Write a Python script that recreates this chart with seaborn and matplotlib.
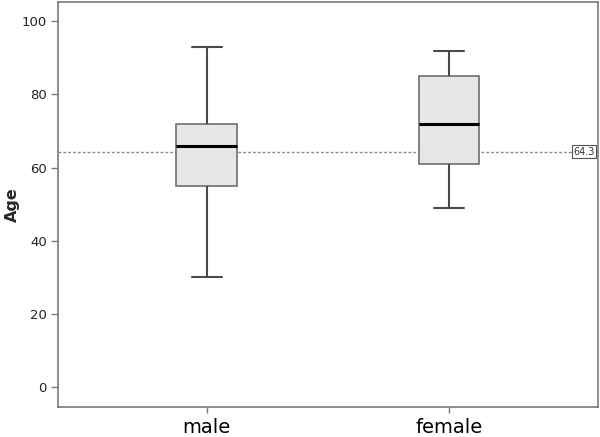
import numpy as np
import pandas as pd
import matplotlib
matplotlib.use("Agg")
import matplotlib.pyplot as plt
import seaborn as sns

# data: five-number summaries
genders = ['male', 'female']
male_age = [30, 55, 66, 72, 93]
female_age = [49, 61, 72, 85, 92]
ref_value = 64.3
y_ticks = [0, 20, 40, 60, 80, 100]

sns.set_theme(style="white")
plt.rcParams['font.family'] = ['DejaVu Sans']

df = pd.DataFrame({
    'gender': ['male'] * len(male_age) + ['female'] * len(female_age),
    'Age': male_age + female_age,
})

fig = plt.figure(figsize=(6, 4.37), dpi=100)
ax = fig.add_axes([58 / 600, 30 / 437, 540 / 600, 405 / 437])

edge = '#6e6e6e'
sns.boxplot(data=df, x='gender', y='Age', order=genders, ax=ax,
            width=0.25, whis=np.inf, color='#e6e6e6', saturation=1,
            linewidth=1.2,
            boxprops=dict(facecolor='#e6e6e6', edgecolor=edge),
            whiskerprops=dict(color='#4a4a4a', linewidth=1.5),
            capprops=dict(color='#4a4a4a', linewidth=1.5),
            medianprops=dict(color='black', linewidth=2.2),
            capwidths=0.125)

# reference line
ax.axhline(ref_value, color='#8a8a8a', linestyle=(0, (2, 1.5)), linewidth=1, zorder=0)
ax.text(1.6, ref_value, f'{ref_value}', ha='right', va='center', fontsize=7,
        color='#333333',
        bbox=dict(facecolor='white', edgecolor='#555555', boxstyle='square,pad=0.15', linewidth=0.8))

ax.set_xlim(-0.614, 1.615)
ax.set_ylim(-5.5, 105.3)
ax.set_yticks(y_ticks)
ax.set_xlabel('')
ax.set_ylabel('Age', fontsize=11.5, fontweight='bold')
ax.yaxis.set_label_coords(-0.07, 0.5)

for s in ax.spines.values():
    s.set_color('#7a7a7a')
    s.set_linewidth(1.2)

ax.tick_params(axis='y', direction='out', length=5, width=1, color='#7a7a7a',
               labelsize=9.5, labelcolor='#222222', left=True, pad=3)
ax.tick_params(axis='x', direction='out', length=4, width=1, color='#7a7a7a',
               labelsize=14, labelcolor='black', bottom=True, pad=4)

plt.savefig('out.png', dpi=100)
plt.close()
